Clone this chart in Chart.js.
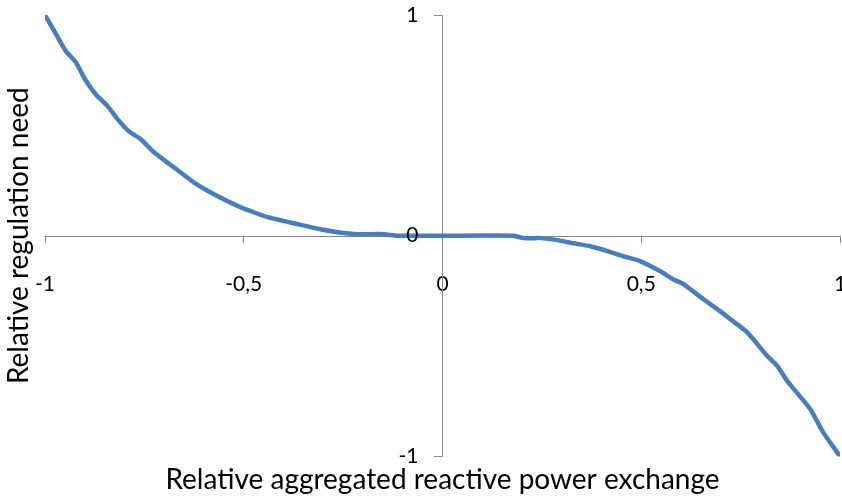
<!DOCTYPE html>
<html>
<head>
<meta charset="utf-8">
<title>Relative regulation need</title>
<script src="https://cdn.jsdelivr.net/npm/chart.js@4.4.0/dist/chart.umd.min.js"></script>
<style>
    html, body { margin: 0; padding: 0; background: #fff; }
    #wrap { width: 842px; height: 497px; }
</style>
</head>
<body>
<div id="wrap"><canvas id="chartCurve" width="842" height="497"></canvas></div>
<script>
// --- Dados ---
const xValues = [-1, -0.972, -0.947, -0.922, -0.902, -0.872, -0.842, -0.817, -0.789, -0.759,
    -0.726, -0.676, -0.626, -0.575, -0.513, -0.482, -0.440, -0.364, -0.307, -0.264,
    -0.214, -0.148, -0.113, 0, 0.178, 0.204, 0.246, 0.289, 0.329, 0.372,
    0.415, 0.455, 0.497, 0.548, 0.580, 0.606, 0.656, 0.698, 0.724, 0.766,
    0.817, 0.842, 0.867, 0.925, 0.957, 1];
const yValues = [1, 0.912, 0.835, 0.785, 0.717, 0.640, 0.586, 0.527, 0.473, 0.437,
    0.378, 0.310, 0.242, 0.188, 0.133, 0.111, 0.084, 0.052, 0.029, 0.016,
    0.007, 0.007, 0, 0, 0, -0.011, -0.011, -0.020, -0.034, -0.048,
    -0.070, -0.093, -0.115, -0.161, -0.197, -0.219, -0.287, -0.342, -0.378, -0.437,
    -0.545, -0.590, -0.658, -0.785, -0.889, -1];

const xTickValues = [-1, -0.5, 0, 0.5, 1];
const xTickLabels = ['-1', '-0,5', '0', '0,5', '1'];
const yTickValues = [-1, 0, 1];
const yTickLabels = ['-1', '0', '1'];

const xTitle = 'Relative aggregated reactive power exchange';
const yTitle = 'Relative regulation need';

const FONT = 'Lato, "Open Sans", sans-serif';
const AXIS_COLOR = '#868686';

// Helper: fixa os ticks nos valores da lista
function fixedTicks(values, labels) {
    return {
        afterBuildTicks: s => { s.ticks = values.map(v => ({ value: v })); },
        callback: v => labels[values.indexOf(v)]
    };
}

function initChart() {
    const xt = fixedTicks(xTickValues, xTickLabels);
    const yt = fixedTicks(yTickValues, yTickLabels);

    new Chart(document.getElementById('chartCurve'), {
        type: 'scatter',
        data: {
            datasets: [{
                data: xValues.map((x, i) => ({ x: x, y: yValues[i] })),
                showLine: true,
                borderColor: '#4a7ebb',
                borderWidth: 4.5,
                borderJoinStyle: 'round',
                borderCapStyle: 'round',
                pointRadius: 0,
                tension: 0.2
            }]
        },
        options: {
            responsive: false,
            animation: false,
            layout: { padding: { top: 15, right: 2, left: 0, bottom: 0 } },
            plugins: {
                legend: { display: false },
                tooltip: { enabled: false },
                title: {
                    display: true,
                    text: yTitle,
                    position: 'left',
                    fullSize: false,
                    color: '#000',
                    font: { family: FONT, size: 28, weight: 'normal', lineHeight: 1.2 },
                    padding: { top: 2, bottom: 9.4 }
                },
                subtitle: {
                    display: true,
                    text: xTitle,
                    position: 'bottom',
                    fullSize: false,
                    color: '#000',
                    font: { family: FONT, size: 28, weight: 'normal', lineHeight: 1.2 },
                    padding: { top: 7, bottom: 0 }
                }
            },
            scales: {
                // eixos cruzando no centro (0,0), como no Excel
                x: {
                    type: 'linear',
                    min: -1, max: 1,
                    position: 'center',
                    afterBuildTicks: xt.afterBuildTicks,
                    afterFit: s => { s.paddingRight = 0; s.paddingLeft = 0; },
                    grid: { drawOnChartArea: false, drawTicks: true, tickLength: 6, color: AXIS_COLOR, lineWidth: 1 },
                    border: { display: true, color: AXIS_COLOR, width: 1 },
                    // rótulos um pouco abaixo do eixo, como no original
                    ticks: { callback: xt.callback, color: '#000', padding: 23, maxRotation: 0,
                             font: { family: FONT, size: 21, lineHeight: 1.85 } }
                },
                y: {
                    type: 'linear',
                    min: -1, max: 1,
                    position: 'center',
                    afterBuildTicks: yt.afterBuildTicks,
                    afterFit: s => { s.paddingTop = 0; s.paddingBottom = 0; },
                    grid: { drawOnChartArea: false, drawTicks: true, tickLength: 8, color: AXIS_COLOR, lineWidth: 1 },
                    border: { display: true, color: AXIS_COLOR, width: 1 },
                    ticks: { callback: yt.callback, color: '#000', padding: 16, z: 1,
                             font: { family: FONT, size: 21 } }
                }
            }
        }
    });
}

document.addEventListener('DOMContentLoaded', initChart);
</script>
</body>
</html>
